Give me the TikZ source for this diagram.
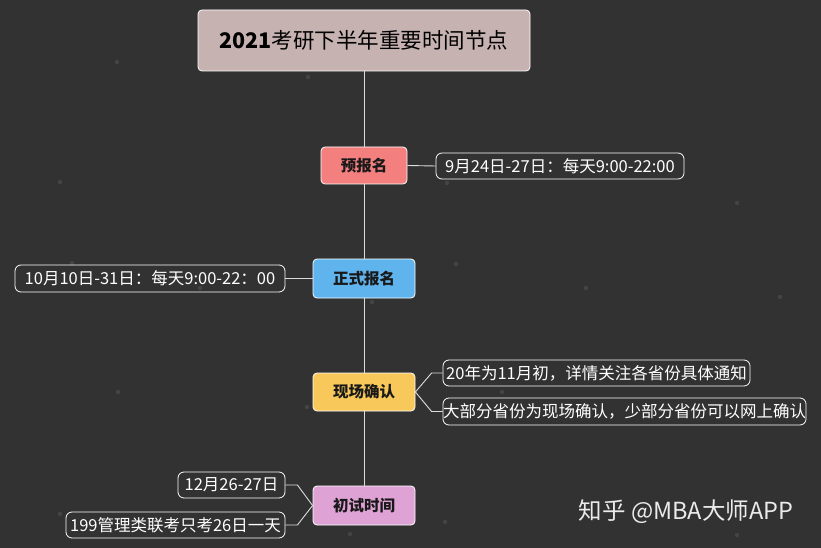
\documentclass[tikz,border=0pt]{standalone}
\usepackage{fontspec}
\setmainfont{Noto Sans CJK SC}
\usetikzlibrary{calc}
\definecolor{bgc}{HTML}{323232}
\definecolor{dotc}{HTML}{444444}
\definecolor{titlec}{HTML}{C6B2B0}
\definecolor{c1}{HTML}{F47F7F}
\definecolor{c2}{HTML}{5FB4EE}
\definecolor{c3}{HTML}{F8C85A}
\definecolor{c4}{HTML}{DEA3D4}
\definecolor{linec}{HTML}{DDDDDD}
\tikzset{
  mainbox/.style={draw=white, line width=0.8pt, rounded corners=4pt, inner sep=0pt,
     font=\fontsize{15.5}{18}\selectfont\bfseries, text=black!90},
  detailbox/.style={draw=white, line width=0.8pt, rounded corners=6pt, inner sep=0pt,
     minimum height=26pt, font=\fontsize{16.5}{19}\selectfont, text=white},
  link/.style={draw=linec, line width=0.9pt},
  bgdot/.style={fill=dotc}
}
\begin{document}
\begin{tikzpicture}[x=1pt,y=-1pt]
\fill[bgc] (0,0) rectangle (821,548);
\useasboundingbox (0,0) rectangle (821,548);
% background dots
\foreach \p in {(117,62),(60,182),(737,203),(586,288),(456,264),(118,392),(780,297),(308,77),(447,183),(72,263),(200,288),(372,302),(502,392),(307,407),(60,514),(350,534),(445,522),(737,535)}
  \fill[bgdot] \p circle (2.2);
% nodes
\node[mainbox, fill=titlec, minimum width=332pt, minimum height=61pt,
      font=\fontsize{21.5}{25}\selectfont, text=black] (title) at (364,40.5) {\textbf{2021}考研下半年重要时间节点};
\node[mainbox, fill=c1, minimum width=86pt, minimum height=37pt] (yb) at (364,165.5) {预报名};
\node[mainbox, fill=c2, minimum width=102pt, minimum height=39pt] (zs) at (364,278.5) {正式报名};
\node[mainbox, fill=c3, minimum width=102pt, minimum height=38pt] (xc) at (364,392) {现场确认};
\node[mainbox, fill=c4, minimum width=102pt, minimum height=39pt] (cs) at (364,505.5) {初试时间};
\node[detailbox, minimum width=248pt] (d1) at (560,166) {9月24日-27日：每天9:00-22:00};
\node[detailbox, minimum width=270pt, minimum height=27pt] (d2) at (150,278.5) {10月10日-31日：每天9:00-22：00};
\node[detailbox, minimum width=307pt] (d3a) at (596.5,373) {20年为11月初，详情关注各省份具体通知};
\node[detailbox, minimum width=363pt, minimum height=27pt] (d3b) at (624.5,411.5) {大部分省份为现场确认，少部分省份可以网上确认};
\node[detailbox, minimum width=107pt] (d4a) at (231.5,485) {12月26-27日};
\node[detailbox, minimum width=219pt] (d4b) at (175.5,525) {199管理类联考只考26日一天};
% spine
\draw[link] (title.south) -- (yb.north);
\draw[link] (yb.south) -- (zs.north);
\draw[link] (zs.south) -- (xc.north);
\draw[link] (xc.south) -- (cs.north);
% branches
\draw[link] (yb.east) -- (d1.west);
\draw[link] (zs.west) -- (d2.east);
\draw[link] (xc.east) -- ($(d3a.west)+(-11,0)$) -- (d3a.west);
\draw[link] (xc.east) -- ($(d3b.west)+(-11,0)$) -- (d3b.west);
\draw[link] (cs.west) -- ($(d4a.east)+(12,0)$) -- (d4a.east);
\draw[link] (cs.west) -- ($(d4b.east)+(12,0)$) -- (d4b.east);
% watermark
\node[text=white!92!black, font=\fontsize{23.5}{27}\selectfont, inner sep=0pt] (wm) at (686,512) {知乎 @MBA大师APP};
\end{tikzpicture}
\end{document}
